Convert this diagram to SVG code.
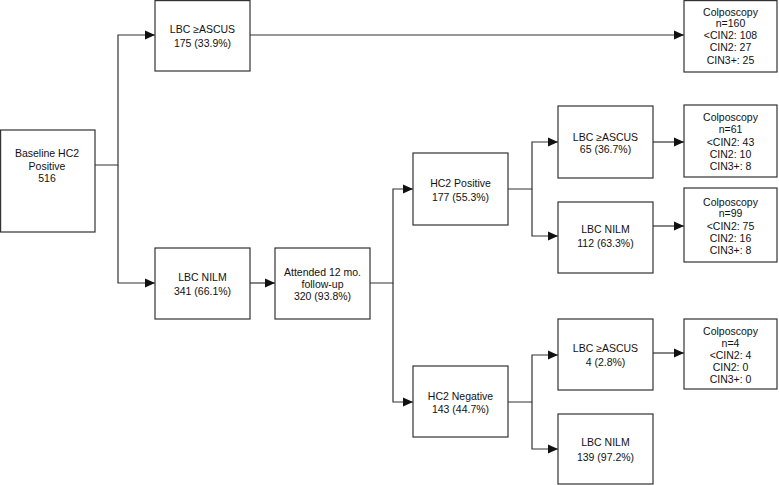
<svg xmlns="http://www.w3.org/2000/svg" width="779" height="485" viewBox="0 0 779 485">
<style>
.box{fill:#fff;stroke:#333;stroke-width:1.2}
.t{font-family:"Liberation Sans",Arial,sans-serif;font-size:10.5px;fill:#111;text-anchor:middle}
.c{fill:none;stroke:#333;stroke-width:1.2}
</style>
<defs>
<marker id="ah" viewBox="0 0 10 10" refX="10" refY="5" markerWidth="10" markerHeight="10" markerUnits="userSpaceOnUse" orient="auto">
<path d="M0,0.5 L10,5 L0,9.5 Z" fill="#111"/>
</marker>
</defs>
<rect width="779" height="485" fill="#fff"/>
<g id="connectors">
<path class="c" d="M95,165 H118 V35 H155" marker-end="url(#ah)"/>
<path class="c" d="M118,165 V283 H155" marker-end="url(#ah)"/>
<path class="c" d="M250,283 H275" marker-end="url(#ah)"/>
<path class="c" d="M370,283 H393 V189 H413" marker-end="url(#ah)"/>
<path class="c" d="M393,283 V402 H413" marker-end="url(#ah)"/>
<path class="c" d="M508,189 H532 V142 H558" marker-end="url(#ah)"/>
<path class="c" d="M532,189 V236 H558" marker-end="url(#ah)"/>
<path class="c" d="M508,402 H532 V355 H558" marker-end="url(#ah)"/>
<path class="c" d="M532,402 V449 H558" marker-end="url(#ah)"/>
<path class="c" d="M250,35 H684" marker-end="url(#ah)"/>
<path class="c" d="M653,142 H684" marker-end="url(#ah)"/>
<path class="c" d="M653,226 H684" marker-end="url(#ah)"/>
<path class="c" d="M653,353 H684" marker-end="url(#ah)"/>
</g>
<g id="baseline">
<rect class="box" x="0.6" y="130" width="94.4" height="102"/>
<text class="t" x="47" y="157">Baseline HC2</text>
<text class="t" x="47" y="169.5">Positive</text>
<text class="t" x="47" y="182">516</text>
</g>
<g id="lbc-ascus-top">
<rect class="box" x="155" y="0.6" width="95" height="70.4"/>
<text class="t" x="202.5" y="33">LBC ≥ASCUS</text>
<text class="t" x="202.5" y="46.5">175 (33.9%)</text>
</g>
<g id="lbc-nilm">
<rect class="box" x="155" y="248" width="95" height="71"/>
<text class="t" x="202.5" y="281">LBC NILM</text>
<text class="t" x="202.5" y="295">341 (66.1%)</text>
</g>
<g id="attended">
<rect class="box" x="275" y="248" width="95" height="71"/>
<text class="t" x="322.5" y="275.5">Attended 12 mo.</text>
<text class="t" x="322.5" y="288">follow-up</text>
<text class="t" x="322.5" y="300">320 (93.8%)</text>
</g>
<g id="hc2-pos">
<rect class="box" x="413" y="153" width="95" height="72"/>
<text class="t" x="460.5" y="187">HC2 Positive</text>
<text class="t" x="460.5" y="200.5">177 (55.3%)</text>
</g>
<g id="hc2-neg">
<rect class="box" x="413" y="366" width="95" height="71"/>
<text class="t" x="460.5" y="399.5">HC2 Negative</text>
<text class="t" x="460.5" y="413">143 (44.7%)</text>
</g>
<g id="lbc-ascus-65">
<rect class="box" x="558" y="106" width="95" height="72"/>
<text class="t" x="605.5" y="140.5">LBC ≥ASCUS</text>
<text class="t" x="605.5" y="153">65 (36.7%)</text>
</g>
<g id="lbc-nilm-112">
<rect class="box" x="558" y="202" width="95" height="71"/>
<text class="t" x="605.5" y="233">LBC NILM</text>
<text class="t" x="605.5" y="246.5">112 (63.3%)</text>
</g>
<g id="lbc-ascus-4">
<rect class="box" x="558" y="319" width="95" height="71"/>
<text class="t" x="605.5" y="351.5">LBC ≥ASCUS</text>
<text class="t" x="605.5" y="366">4 (2.8%)</text>
</g>
<g id="lbc-nilm-139">
<rect class="box" x="558" y="414" width="95" height="70"/>
<text class="t" x="605.5" y="445.5">LBC NILM</text>
<text class="t" x="605.5" y="460.5">139 (97.2%)</text>
</g>
<g id="colpo-160">
<rect class="box" x="684" y="0.6" width="93" height="71.4"/>
<text class="t" x="730.5" y="15.5">Colposcopy</text>
<text class="t" x="730.5" y="27">n=160</text>
<text class="t" x="730.5" y="39">&lt;CIN2: 108</text>
<text class="t" x="730.5" y="51">CIN2: 27</text>
<text class="t" x="730.5" y="64">CIN3+: 25</text>
</g>
<g id="colpo-61">
<rect class="box" x="684" y="105" width="93" height="72"/>
<text class="t" x="730.5" y="120.5">Colposcopy</text>
<text class="t" x="730.5" y="132.5">n=61</text>
<text class="t" x="730.5" y="145.5">&lt;CIN2: 43</text>
<text class="t" x="730.5" y="157.5">CIN2: 10</text>
<text class="t" x="730.5" y="169.5">CIN3+: 8</text>
</g>
<g id="colpo-99">
<rect class="box" x="684" y="188" width="93" height="74"/>
<text class="t" x="730.5" y="205.5">Colposcopy</text>
<text class="t" x="730.5" y="217">n=99</text>
<text class="t" x="730.5" y="229.5">&lt;CIN2: 75</text>
<text class="t" x="730.5" y="241.5">CIN2: 16</text>
<text class="t" x="730.5" y="253.5">CIN3+: 8</text>
</g>
<g id="colpo-4">
<rect class="box" x="684" y="319" width="93" height="70"/>
<text class="t" x="730.5" y="334.5">Colposcopy</text>
<text class="t" x="730.5" y="346.5">n=4</text>
<text class="t" x="730.5" y="358.5">&lt;CIN2: 4</text>
<text class="t" x="730.5" y="370.5">CIN2: 0</text>
<text class="t" x="730.5" y="382.5">CIN3+: 0</text>
</g>
</svg>
